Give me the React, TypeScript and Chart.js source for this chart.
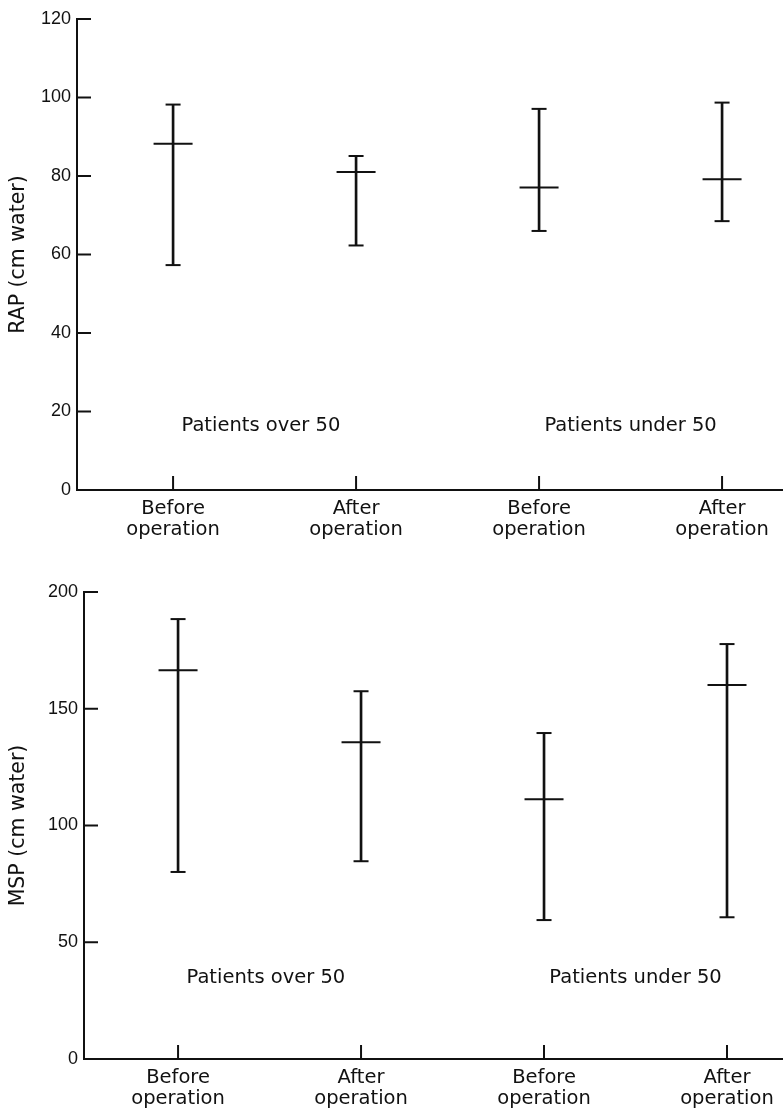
import React, { useEffect, useRef } from "react";
import { Chart, registerables } from "chart.js";

Chart.register(...registerables);

// ---------- data ----------
const categoryLines: string[][] = [
  ["Before", "operation"],
  ["After", "operation"],
  ["Before", "operation"],
  ["After", "operation"],
];
const categoryPositions = [1, 2, 3, 4];
const groupLabels = ["Patients over 50", "Patients under 50"];

const rapMean = [88.2, 81.0, 77.1, 79.2];
const rapHigh = [98.2, 85.1, 97.1, 98.7];
const rapLow = [57.3, 62.3, 66.0, 68.5];
const rapTicks = [0, 20, 40, 60, 80, 100, 120];

const mspMean = [166.5, 135.6, 111.2, 160.2];
const mspHigh = [188.4, 157.5, 139.6, 177.7];
const mspLow = [80.1, 84.7, 59.5, 60.7];
const mspTicks = [0, 50, 100, 150, 200];

const INK = "#111";
const TEXT_FONT = '"DejaVu Sans", "Liberation Sans", sans-serif';
const TICK_FONT = '"Liberation Sans", Arial, sans-serif';

const innerTicks = {
  id: "innerTicks",
  afterDatasetsDraw(chart: any, _args: any, opts: any) {
    const { ctx, chartArea, scales } = chart;
    const x = scales.x;
    const y = scales.y;
    ctx.save();
    ctx.strokeStyle = INK;
    ctx.lineWidth = 2;
    y.ticks.forEach((t: any) => {
      const py = y.getPixelForValue(t.value);
      ctx.beginPath();
      ctx.moveTo(chartArea.left, py);
      ctx.lineTo(chartArea.left + opts.len, py);
      ctx.stroke();
    });
    x.ticks.forEach((t: any) => {
      const px = x.getPixelForValue(t.value);
      ctx.beginPath();
      ctx.moveTo(px, chartArea.bottom);
      ctx.lineTo(px, chartArea.bottom - opts.len);
      ctx.stroke();
    });
    ctx.fillStyle = INK;
    ctx.font = `19.5px ${TEXT_FONT}`;
    ctx.textAlign = "center";
    ctx.textBaseline = "middle";
    (opts.groups || []).forEach((g: any) => {
      ctx.fillText(g.text, x.getPixelForValue(g.x), y.getPixelForValue(g.y));
    });
    ctx.restore();
  },
};

type Cfg = {
  mean: number[];
  high: number[];
  low: number[];
  ticks: number[];
  title: string;
  xMin: number;
  xMax: number;
  yWidth: number;
  xHeight: number;
  padTop: number;
  groupY: number;
};

function makeConfig(c: Cfg): any {
  const whiskers = categoryPositions.map((x, i) => ({ x, y: [c.low[i], c.high[i]] }));
  const means = categoryPositions.map((x, i) => ({ x, y: c.mean[i] }));
  const caps = [
    ...categoryPositions.map((x, i) => ({ x, y: c.high[i] })),
    ...categoryPositions.map((x, i) => ({ x, y: c.low[i] })),
  ];
  return {
    type: "scatter",
    data: {
      datasets: [
        {
          type: "bar",
          data: whiskers,
          backgroundColor: INK,
          borderWidth: 0,
          barThickness: 2,
        },
        {
          type: "scatter",
          data: means,
          pointStyle: "line",
          pointRadius: 19.5,
          pointHoverRadius: 19.5,
          borderColor: INK,
          borderWidth: 2,
        },
        {
          type: "scatter",
          data: caps,
          pointStyle: "line",
          pointRadius: 7.5,
          pointHoverRadius: 7.5,
          borderColor: INK,
          borderWidth: 2,
        },
      ],
    },
    options: {
      responsive: false,
      animation: false,
      events: [],
      layout: { autoPadding: false, padding: { top: c.padTop, left: 0, right: 0, bottom: 0 } },
      plugins: {
        legend: { display: false },
        tooltip: { enabled: false },
        innerTicks: {
          len: 14,
          groups: [
            { text: groupLabels[0], x: 1.48, y: c.groupY },
            { text: groupLabels[1], x: 3.5, y: c.groupY },
          ],
        },
      },
      scales: {
        x: {
          type: "linear",
          min: c.xMin,
          max: c.xMax,
          offset: false,
          grid: { display: false, drawTicks: false },
          border: { display: true, color: INK, width: 2 },
          afterBuildTicks: (s: any) => {
            s.ticks = categoryPositions.map((v) => ({ value: v }));
          },
          afterFit: (s: any) => {
            s.height = c.xHeight;
            s.paddingLeft = 0;
            s.paddingRight = 0;
          },
          ticks: {
            color: INK,
            padding: 9,
            autoSkip: false,
            maxRotation: 0,
            font: { family: TEXT_FONT, size: 19.5, lineHeight: 1.05 },
            callback: (v: any) => categoryLines[categoryPositions.indexOf(v)] ?? "",
          },
        },
        y: {
          type: "linear",
          min: c.ticks[0],
          max: c.ticks[c.ticks.length - 1],
          grid: { display: false, drawTicks: false },
          border: { display: true, color: INK, width: 2 },
          afterBuildTicks: (s: any) => {
            s.ticks = c.ticks.map((v) => ({ value: v }));
          },
          afterFit: (s: any) => {
            s.width = c.yWidth;
          },
          ticks: {
            color: INK,
            padding: 6,
            font: { family: TICK_FONT, size: 18 },
          },
          title: {
            display: true,
            text: c.title,
            color: INK,
            padding: { top: 6, bottom: 0 },
            font: { family: TEXT_FONT, size: 20.5, lineHeight: 1.2 },
          },
        },
      },
    },
    plugins: [innerTicks],
  };
}

function ChartCanvas({ cfg, width, height }: { cfg: Cfg; width: number; height: number }) {
  const ref = useRef<HTMLCanvasElement | null>(null);
  useEffect(() => {
    if (!ref.current) return;
    const chart = new Chart(ref.current, makeConfig(cfg));
    return () => chart.destroy();
  }, [cfg]);
  return <canvas ref={ref} width={width} height={height} style={{ display: "block", width, height }} />;
}

const rapCfg: Cfg = {
  mean: rapMean,
  high: rapHigh,
  low: rapLow,
  ticks: rapTicks,
  title: "RAP (cm water)",
  xMin: 0.475,
  xMax: 4.333,
  yWidth: 77,
  xHeight: 70,
  padTop: 19,
  groupY: 16.3,
};

const mspCfg: Cfg = {
  mean: mspMean,
  high: mspHigh,
  low: mspLow,
  ticks: mspTicks,
  title: "MSP (cm water)",
  xMin: 0.486,
  xMax: 4.306,
  yWidth: 84,
  xHeight: 51,
  padTop: 32,
  groupY: 34.7,
};

export default function App() {
  return (
    <div style={{ position: "absolute", left: 0, top: 0, width: 783, height: 1110, background: "#fff", overflow: "hidden" }}>
      <ChartCanvas cfg={rapCfg} width={783} height={560} />
      <ChartCanvas cfg={mspCfg} width={783} height={550} />
    </div>
  );
}
